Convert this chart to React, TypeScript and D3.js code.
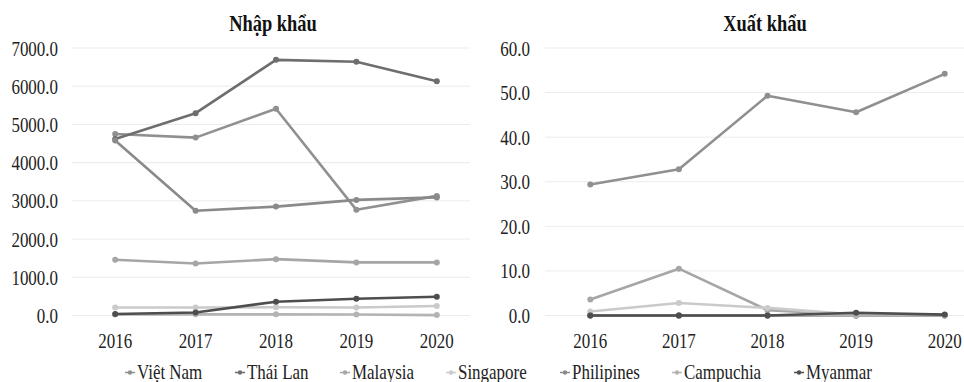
import React from "react";
import * as d3 from "d3";

const years = ["2016", "2017", "2018", "2019", "2020"];
const seriesNames = ["Việt Nam", "Thái Lan", "Malaysia", "Singapore", "Philipines", "Campuchia", "Myanmar"];
const seriesColors = ["#909090", "#6e6e6e", "#a6a6a6", "#cacaca", "#8a8a8a", "#b4b4b4", "#4e4e4e"];

const importVietNam = [4750, 4655, 5410, 2765, 3130];
const importThaiLan = [4620, 5295, 6690, 6640, 6130];
const importMalaysia = [1460, 1360, 1475, 1390, 1390];
const importSingapore = [210, 210, 215, 210, 250];
const importPhilipines = [4580, 2740, 2850, 3025, 3090];
const importCampuchia = [25, 30, 30, 25, 10];
const importMyanmar = [40, 80, 360, 440, 490];

const exportVietNam = [29.4, 32.8, 49.3, 45.6, 54.2];
const exportThaiLan = [0, 0, 0, 0, 0];
const exportMalaysia = [3.6, 10.5, 1.2, 0.2, 0.1];
const exportSingapore = [0.9, 2.8, 1.7, 0.2, 0.1];
const exportPhilipines = [0, 0, 0, 0, 0];
const exportCampuchia = [0, 0, 0, 0, 0];
const exportMyanmar = [0, 0, 0, 0.6, 0.2];

const importTicks = [0, 1000, 2000, 3000, 4000, 5000, 6000, 7000];
const exportTicks = [0, 10, 20, 30, 40, 50, 60];

const importSeries = [importVietNam, importThaiLan, importMalaysia, importSingapore, importPhilipines, importCampuchia, importMyanmar];
const exportSeries = [exportVietNam, exportThaiLan, exportMalaysia, exportSingapore, exportPhilipines, exportCampuchia, exportMyanmar];

const FONT = "Liberation Serif";
const SX = 0.77;

function T({ x, y, children, anchor = "start", size = 22, bold = false, sx = SX }: any) {
  return (
    <text
      transform={`translate(${x},${y}) scale(${sx},1)`}
      textAnchor={anchor}
      style={{ fontFamily: FONT, fontSize: size, fontWeight: bold ? 700 : 400 }}
      fill={bold ? "#111" : "#222"}
    >
      {children}
    </text>
  );
}

function Panel({ title, titleX, data, ticks, yMax, xRange, gridRange, labelRight }: any) {
  const x = d3.scalePoint<string>().domain(years).range(xRange).padding(0.5);
  const y = d3.scaleLinear().domain([0, yMax]).range([315.5, 48]);
  const line = d3
    .line<number>()
    .x((_, i) => x(years[i]) as number)
    .y((d) => y(d));
  return (
    <g>
      <T x={titleX} y={31} anchor="middle" bold size={22.5} sx={0.82}>{title}</T>
      {ticks.map((t: number) => (
        <g key={t}>
          <line x1={gridRange[0]} x2={gridRange[1]} y1={y(t)} y2={y(t)} stroke="#ebebeb" strokeWidth={1} />
          <T x={labelRight} y={y(t) + 7.5} anchor="end">{t.toFixed(1)}</T>
        </g>
      ))}
      {years.map((yr) => (
        <T key={yr} x={x(yr)} y={348} anchor="middle">{yr}</T>
      ))}
      {data.map((vals: number[], si: number) => (
        <g key={si}>
          <path d={line(vals) || ""} fill="none" stroke={seriesColors[si]} strokeWidth={2.6} strokeLinejoin="round" />
          {vals.map((v, i) => (
            <circle key={i} cx={x(years[i])} cy={y(v)} r={3} fill={seriesColors[si]} />
          ))}
        </g>
      ))}
    </g>
  );
}

const legendX = [137, 247, 352, 458, 572, 684, 806];

export default function App() {
  return (
    <svg
      width={964}
      height={382}
      style={{ position: "absolute", left: 0, top: 0, background: "#fff" }}
    >
      <rect width={964} height={382} fill="#fff" />
      <Panel
        title="Nhập khẩu"
        titleX={273}
        data={importSeries}
        ticks={importTicks}
        yMax={7000}
        xRange={[75, 477]}
        gridRange={[72, 470]}
        labelRight={58}
      />
      <Panel
        title="Xuất khẩu"
        titleX={765}
        data={exportSeries}
        ticks={exportTicks}
        yMax={60}
        xRange={[546, 989]}
        gridRange={[545, 964]}
        labelRight={530}
      />
      {seriesNames.map((n, i) => (
        <g key={n}>
          <line x1={legendX[i] - 12} x2={legendX[i] - 2} y1={372.5} y2={372.5} stroke={seriesColors[i]} strokeWidth={1.5} />
          <circle cx={legendX[i] - 7} cy={372.5} r={2.2} fill={seriesColors[i]} />
          <T x={legendX[i]} y={379}>{n}</T>
        </g>
      ))}
    </svg>
  );
}
